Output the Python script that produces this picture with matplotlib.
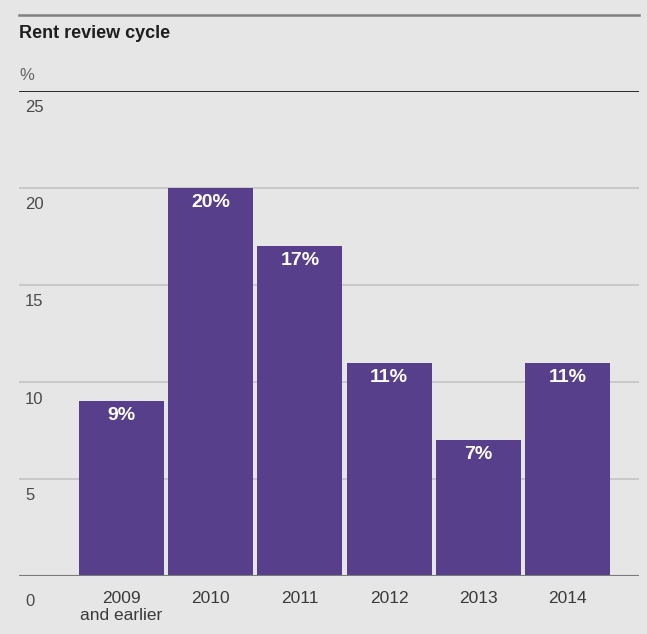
import matplotlib
matplotlib.use("Agg")
import matplotlib.pyplot as plt

categories = ["2009\nand earlier", "2010", "2011", "2012", "2013", "2014"]
values = [9, 20, 17, 11, 7, 11]
y_ticks = [0, 5, 10, 15, 20, 25]

BG = "#e6e6e6"
BAR = "#573f8c"
FONT = ["Liberation Sans", "DejaVu Sans"]
plt.rcParams["font.family"] = FONT

W, H = 647, 634
PT = 0.72  # points per pixel at 100 dpi
fig = plt.figure(figsize=(W / 100, H / 100), dpi=100, facecolor=BG)

x0, x1 = 19, 639
y_base, y_top = 576, 91
ax = fig.add_axes([x0 / W, 1 - y_base / H, (x1 - x0) / W, (y_base - y_top) / H])
ax.set_facecolor(BG)

xpos = list(range(len(values)))
ax.set_xlim(-1.149, 5.80)
ax.set_ylim(0, 25)

# horizontal gridlines
for t in y_ticks[1:-1]:
    ax.axhline(t, color="#c4c4c4", lw=1.2, zorder=0)
ax.axhline(0, color="#7a7a7a", lw=1.5, zorder=3)
ax.axhline(25, color="#1a1a1a", lw=1.3, zorder=3)

bars = ax.bar(xpos, values, width=0.953, color=BAR, zorder=2)

for xi, v in zip(xpos, values):
    ax.annotate(f"{v}%", (xi, v), xytext=(0, -14.5 * PT), textcoords="offset points",
                ha="center", va="center", color="white", fontsize=14,
                fontweight="bold", zorder=4)

for s in ax.spines.values():
    s.set_visible(False)
ax.set_xticks([])
ax.set_yticks([])

# y tick labels sit just below their gridlines
for t in y_ticks:
    off = 26 if t == 0 else 17
    ax.annotate(str(t), (0, t), xycoords=("axes fraction", "data"),
                xytext=(6 * PT, -off * PT), textcoords="offset points",
                ha="left", va="center", fontsize=12, color="#4a4a4a")

# category labels
for xi, c in zip(xpos, categories):
    ax.annotate(c, (xi, 0), xytext=(0, -15 * PT), textcoords="offset points",
                ha="center", va="top", fontsize=12.5, color="#3a3a3a",
                linespacing=1.2)

# header
fig.add_artist(plt.Line2D([x0 / W, x1 / W], [1 - 15 / H, 1 - 15 / H],
                          color="#808080", lw=1.8))
fig.text(x0 / W, 1 - 33 / H, "Rent review cycle", ha="left", va="center",
         fontsize=13, fontweight="bold", color="#1e1e1e")
fig.text(x0 / W, 1 - 76 / H, "%", ha="left", va="center",
         fontsize=12, color="#666666")

fig.savefig("out.png", dpi=100, facecolor=BG)
